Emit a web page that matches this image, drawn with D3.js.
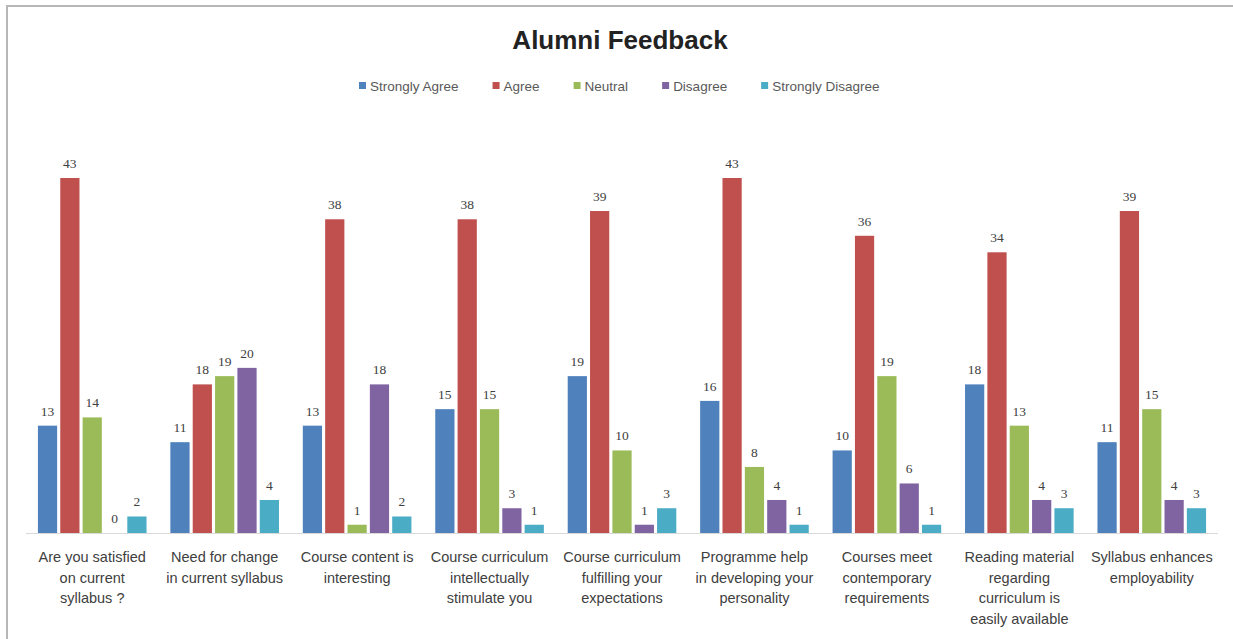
<!DOCTYPE html>
<html><head><meta charset="utf-8">
<script src="https://cdn.jsdelivr.net/npm/d3@7"></script>
<style>body{margin:0;background:#fff}svg{display:block}</style>
</head><body>
<script>
const categories = [
  ["Are you satisfied","on current","syllabus ?"],
  ["Need for change","in current syllabus"],
  ["Course content is","interesting"],
  ["Course curriculum","intellectually","stimulate you"],
  ["Course curriculum","fulfilling your","expectations"],
  ["Programme help","in developing your","personality"],
  ["Courses meet","contemporary","requirements"],
  ["Reading material","regarding","curriculum is","easily available"],
  ["Syllabus enhances","employability"]
];
const seriesNames = ["Strongly Agree","Agree","Neutral","Disagree","Strongly Disagree"];
const stronglyAgree    = [13,11,13,15,19,16,10,18,11];
const agree            = [43,18,38,38,39,43,36,34,39];
const neutral          = [14,19, 1,15,10, 8,19,13,15];
const disagree         = [ 0,20,18, 3, 1, 4, 6, 4, 4];
const stronglyDisagree = [ 2, 4, 2, 1, 3, 1, 1, 3, 3];
const seriesValues = [stronglyAgree, agree, neutral, disagree, stronglyDisagree];
const colors = ["#4F81BD","#C0504D","#9BBB59","#8064A2","#4BACC6"];
const title = "Alumni Feedback";

const W = 1233, H = 639;
const svg = d3.select("body").append("svg").attr("width", W).attr("height", H);
const font = "'Liberation Sans', Arial, sans-serif";

// chart border (top & left visible)
svg.append("line").attr("x1",6.5).attr("x2",W).attr("y1",6).attr("y2",6).attr("stroke","#b7b7b7").attr("stroke-width",2);
svg.append("line").attr("x1",7).attr("x2",7).attr("y1",5).attr("y2",H).attr("stroke","#b7b7b7").attr("stroke-width",2);

svg.append("text").attr("x", 620).attr("y", 49).attr("text-anchor","middle")
  .attr("font-family", font).attr("font-weight","bold").attr("font-size",26).attr("fill","#222")
  .text(title);

const catIdx = categories.map((d,i)=>i);
const x0 = d3.scaleBand().domain(catIdx).range([26,1218]).paddingInner(0.18).paddingOuter(0.09);
const x1 = d3.scaleBand().domain(d3.range(seriesNames.length)).range([0, x0.bandwidth()]).paddingInner(0.14);
const y = d3.scaleLinear().domain([0,45]).range([533, 533-45*8.256]);

// baseline axis
svg.append("line").attr("x1",26).attr("x2",1218).attr("y1",y(0)+0.5).attr("y2",y(0)+0.5).attr("stroke","#d9d9d9");

const groups = svg.selectAll("g.grp").data(catIdx).join("g").attr("class","grp")
  .attr("transform", i => `translate(${x0(i)},0)`);

groups.selectAll("rect").data(i => seriesValues.map((s,k)=>({k, v:s[i]}))).join("rect")
  .attr("x", d => x1(d.k)).attr("width", x1.bandwidth())
  .attr("y", d => y(d.v)).attr("height", d => y(0)-y(d.v))
  .attr("fill", d => colors[d.k]);

groups.selectAll("text.lbl").data(i => seriesValues.map((s,k)=>({k, v:s[i]}))).join("text")
  .attr("class","lbl")
  .attr("x", d => x1(d.k) + x1.bandwidth()/2).attr("y", d => y(d.v) - 10)
  .attr("text-anchor","middle").attr("font-family","'Liberation Serif', serif").attr("font-size",13.5).attr("fill","#404040")
  .text(d => d.v);

// category labels
const lab = svg.selectAll("text.cat").data(catIdx).join("text").attr("class","cat")
  .attr("text-anchor","middle").attr("font-family", font).attr("font-size",14.5).attr("fill","#404040");
lab.each(function(i){
  const t = d3.select(this);
  categories[i].forEach((line,j)=>{
    t.append("tspan").attr("x", x0(i)+x0.bandwidth()/2).attr("y", 562 + j*20.5).text(line);
  });
});

// legend
const legend = svg.append("g").attr("transform","translate(0,86)");
let lx = 359;
seriesNames.forEach((n,k)=>{
  legend.append("rect").attr("x", lx).attr("y", -4).attr("width",7).attr("height",7).attr("fill",colors[k]);
  const t = legend.append("text").attr("x", lx+11).attr("y", 4.5).attr("font-family", font)
    .attr("font-size",13.5).attr("fill","#595959").text(n);
  lx += 11 + t.node().getComputedTextLength() + 34;
});
</script>
</body></html>
